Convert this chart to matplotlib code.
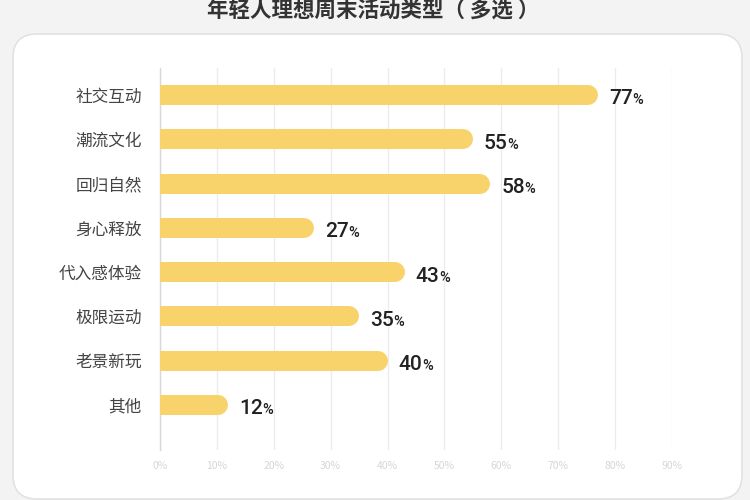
import matplotlib
matplotlib.use("Agg")
import matplotlib.pyplot as plt
from matplotlib.patches import FancyBboxPatch
from matplotlib.transforms import IdentityTransform

plt.rcParams['font.family'] = ['Noto Sans CJK SC', 'DejaVu Sans']

title = "年轻人理想周末活动类型（ 多选 ）"
categories = ["社交互动", "潮流文化", "回归自然", "身心释放", "代入感体验", "极限运动", "老景新玩", "其他"]
values = [77, 55, 58, 27, 43, 35, 40, 12]
xticks = [0, 10, 20, 30, 40, 50, 60, 70, 80, 90]
xticklabels = ["0%", "10%", "20%", "30%", "40%", "50%", "60%", "70%", "80%", "90%"]

BAR = "#F8D26A"
W, H = 750, 500

fig = plt.figure(figsize=(7.5, 5), dpi=100)
fig.patch.set_facecolor("#f3f3f3")

# card (pixel coordinates, origin bottom-left)
card = FancyBboxPatch((13, 1), 729, 465, boxstyle="round,pad=0,rounding_size=24",
                      transform=IdentityTransform(), facecolor="white",
                      edgecolor="#e2e2e2", linewidth=1.2, zorder=-5)
fig.patches.append(card)

fig.text(373 / W, 1 - 11 / H, title, ha="center", va="center", fontsize=15.5,
         fontweight="bold", color="#333333")

ax = fig.add_axes([160 / W, 1 - 450 / H, 512 / W, 382 / H])
ax.set_zorder(2)
ax.set_facecolor("none")
ax.set_xlim(0, 90)
ax.set_ylim(7 + 1.02, -0.61)

renderer = fig.canvas.get_renderer()
# bar geometry: 20 px thick, rounded right end
px_per_unit = 512 / 90.0
r = 10 / px_per_unit
lw_pt = 20 * 72 / 100
for i, v in enumerate(values):
    ax.plot([-5, v - r], [i, i], color=BAR, linewidth=lw_pt, solid_capstyle="round",
            zorder=3, clip_on=True)
    t = ax.annotate(f"{v}", xy=(v, i), xytext=(8, -6.8), textcoords="offset points",
                    ha="left", va="baseline", fontsize=15, color="#222222",
                    family=["Roboto", "DejaVu Sans"], fontweight="medium")
    wpt = t.get_window_extent(renderer=renderer).width * 72 / 100
    ax.annotate("%", xy=(v, i), xytext=(8 + wpt - 0.3, -6.8), textcoords="offset points",
                ha="left", va="baseline", fontsize=10.5, color="#222222",
                family=["Roboto", "DejaVu Sans"], fontweight="medium")

ax.set_yticks(range(len(categories)))
ax.set_yticklabels(categories, fontsize=12, color="#444444")
ax.set_xticks(xticks)
ax.set_xticklabels(xticklabels, fontsize=7.5, color="#d6d6d6")
ax.tick_params(axis="y", length=0, pad=13)
ax.tick_params(axis="x", length=0, pad=8)

ax.grid(axis="x", color="#ececec", linewidth=1.0, zorder=0)
ax.set_axisbelow(True)
for s in ["top", "right", "bottom"]:
    ax.spines[s].set_visible(False)
ax.spines["left"].set_color("#d8d8d8")
ax.spines["left"].set_linewidth(1.0)

fig.savefig("out.png", dpi=100, facecolor=fig.get_facecolor())
